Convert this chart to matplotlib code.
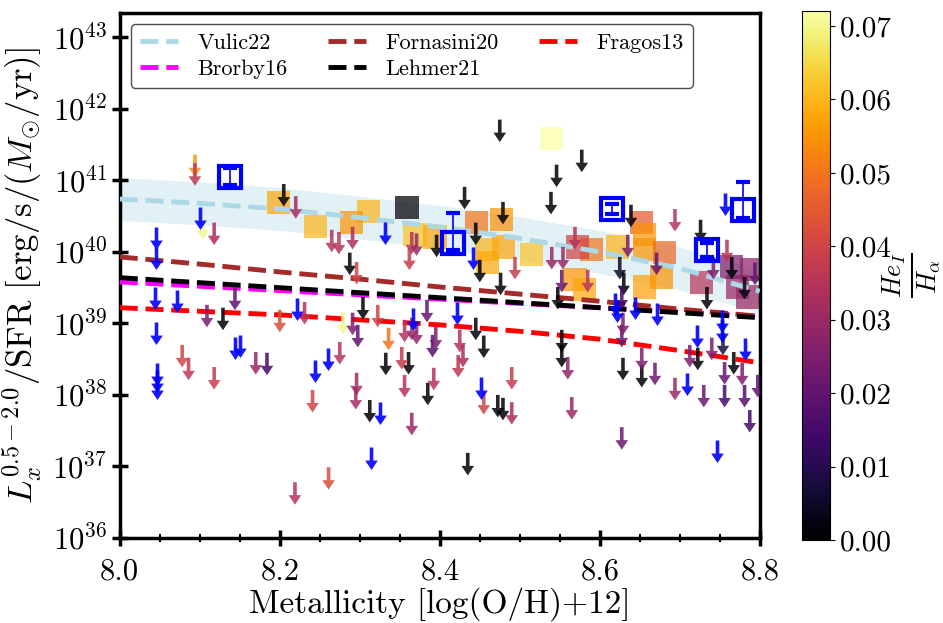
import numpy as np
import matplotlib
matplotlib.use('Agg')
import matplotlib.pyplot as plt
import matplotlib.ticker as mticker
from matplotlib.path import Path
from matplotlib.colors import Normalize
from matplotlib.cm import ScalarMappable

plt.rcParams['font.family'] = 'serif'
plt.rcParams['font.serif'] = ['cmr10']
plt.rcParams['mathtext.fontset'] = 'cm'
plt.rcParams['axes.formatter.use_mathtext'] = True

# ---------------------------------------------------------
# Data (metallicity, log10 Lx/SFR, HeI/Halpha)
# ---------------------------------------------------------
# scaling relations
rel_z = [8.0, 8.1, 8.2, 8.3, 8.4, 8.5, 8.6, 8.7, 8.8]
vulic_l = [40.74, 40.68, 40.60, 40.48, 40.35, 40.19, 40.00, 39.77, 39.45]
brorby_l = [39.58, 39.52, 39.46, 39.40, 39.34, 39.28, 39.22, 39.16, 39.10]
fornasini_l = [39.93, 39.83, 39.72, 39.62, 39.51, 39.41, 39.31, 39.20, 39.10]
lehmer_l = [39.64, 39.57, 39.50, 39.43, 39.36, 39.29, 39.22, 39.15, 39.08]
fragos_l = [39.22, 39.17, 39.12, 39.05, 38.98, 38.89, 38.78, 38.62, 38.45]
vulic_scatter = 0.3

# upper limits without HeI measurement (blue arrows)
blue_lim_z = [8.100, 8.045, 8.045, 8.044, 8.071, 8.221, 8.045, 8.046, 8.046, 8.046,
              8.144, 8.150, 8.244, 8.260, 8.325, 8.314, 8.451, 8.709, 8.721, 8.7525,
              8.781, 8.746, 8.756, 8.644, 8.619, 8.671, 8.7525, 8.331, 8.441, 8.421,
              8.366, 8.621]
blue_lim_l = [40.63, 40.35, 40.07, 39.51, 39.47, 39.36, 39.02, 38.45, 38.35, 38.25,
              38.81, 38.84, 38.49, 38.66, 37.90, 37.27, 38.25, 38.31, 38.98, 39.05,
              38.80, 37.37, 40.83, 39.37, 39.43, 39.29, 39.19, 40.42, 40.07, 39.30,
              39.22, 39.33]

# upper limits coloured by HeI/Halpha
lim_z = [8.205, 8.129, 8.3325, 8.361, 8.3125, 8.385, 8.435, 8.445, 8.455, 8.4725,
         8.479, 8.5525, 8.5525, 8.629, 8.6525, 8.7225, 8.7675, 8.5775, 8.546, 8.539,
         8.639, 8.726, 8.475, 8.431, 8.479, 8.445, 8.450, 8.476, 8.396, 8.2875,
         8.304, 8.5475, 8.734, 8.625, 8.630, 8.765, 8.781, 8.754,
         8.094, 8.094, 8.104, 8.118, 8.220, 8.265, 8.274, 8.291, 8.144, 8.109,
         8.231, 8.200, 8.078, 8.086, 8.118, 8.170, 8.184, 8.241, 8.219, 8.261,
         8.279, 8.2975, 8.291, 8.275, 8.336, 8.356, 8.365, 8.371, 8.3525, 8.391,
         8.395, 8.356, 8.296, 8.295, 8.3925, 8.365, 8.425, 8.429, 8.423, 8.455,
         8.490, 8.490, 8.560, 8.565, 8.6275, 8.6525, 8.669, 8.694, 8.7125, 8.730,
         8.740, 8.756, 8.756, 8.781, 8.7875, 8.778, 8.7975, 8.6275, 8.629, 8.694,
         8.569, 8.540, 8.554, 8.5525, 8.585, 8.635, 8.671, 8.759, 8.742, 8.794,
         8.6275, 8.365, 8.362, 8.371, 8.296, 8.494, 8.3225, 8.384]
lim_l = [40.95, 39.22, 38.59, 38.60, 37.93, 38.17, 37.19, 39.08, 38.83, 38.00,
         37.96, 38.91, 38.70, 38.52, 38.42, 38.66, 38.60, 41.43, 41.22, 40.84,
         40.66, 40.45, 41.85, 40.91, 40.70, 40.41, 39.89, 39.71, 40.24, 39.99,
         39.37, 39.51, 39.51, 39.93, 39.71, 39.93, 39.65, 38.87,
         41.36, 41.24, 40.49, 40.41, 40.78, 40.31, 40.28, 40.35, 39.50, 39.26,
         39.30, 39.19, 38.70, 38.52, 38.39, 38.60, 38.59, 38.07, 36.78, 36.99,
         39.16, 38.98, 39.15, 38.74, 38.94, 39.05, 39.08, 39.02, 38.67, 38.84,
         38.95, 38.28, 38.31, 38.11, 38.38, 37.75, 38.91, 38.70, 38.56, 38.04,
         38.39, 37.90, 38.53, 37.97, 37.55, 38.66, 38.45, 38.24, 38.70, 38.14,
         38.80, 38.14, 38.46, 38.14, 37.79, 38.45, 38.28, 38.98, 39.15, 40.60,
         40.35, 40.07, 40.07, 39.75, 39.75, 40.24, 39.99, 40.17, 39.93, 39.85,
         39.51, 40.28, 40.06, 40.26, 39.86, 39.93, 39.26, 39.33]
lim_he = [0.0, 0.0, 0.0, 0.0, 0.0, 0.0, 0.0, 0.0, 0.0, 0.0,
          0.0, 0.0, 0.0, 0.0, 0.0, 0.0, 0.0, 0.0, 0.0, 0.0,
          0.0, 0.0, 0.0, 0.0, 0.0, 0.0, 0.0, 0.0, 0.0, 0.0,
          0.0, 0.0, 0.0, 0.005, 0.0, 0.0, 0.003, 0.008,
          0.055, 0.036, 0.070, 0.033, 0.032, 0.035, 0.035, 0.033, 0.020, 0.025,
          0.035, 0.042, 0.040, 0.037, 0.038, 0.030, 0.015, 0.040, 0.035, 0.042,
          0.070, 0.020, 0.025, 0.035, 0.050, 0.035, 0.030, 0.028, 0.038, 0.018,
          0.025, 0.035, 0.032, 0.032, 0.035, 0.030, 0.035, 0.033, 0.036, 0.040,
          0.038, 0.033, 0.028, 0.030, 0.022, 0.025, 0.022, 0.030, 0.025, 0.022,
          0.025, 0.015, 0.020, 0.018, 0.015, 0.025, 0.020, 0.022, 0.025, 0.035,
          0.035, 0.030, 0.030, 0.020, 0.035, 0.025, 0.020, 0.035, 0.025, 0.020,
          0.015, 0.035, 0.038, 0.030, 0.040, 0.038, 0.040, 0.020]

# detections coloured by HeI/Halpha (squares)
det_z = [8.198, 8.245, 8.311, 8.290, 8.359, 8.369, 8.394, 8.446, 8.4775, 8.459,
         8.460, 8.480, 8.515, 8.540, 8.6525, 8.656, 8.656, 8.656, 8.6225, 8.590,
         8.569, 8.581, 8.6775, 8.681, 8.5725, 8.7275, 8.7725, 8.765, 8.785, 8.790]
det_l = [40.69, 40.36, 40.56, 40.41, 40.62, 40.24, 40.21, 40.41, 40.45, 40.03,
         39.85, 40.07, 39.96, 41.59, 40.41, 40.24, 40.03, 39.51, 40.07, 40.03,
         39.61, 39.47, 39.65, 39.99, 40.07, 39.57, 39.51, 39.79, 39.37, 39.75]
det_he = [0.058, 0.060, 0.060, 0.055, 0.0, 0.062, 0.058, 0.050, 0.055, 0.060,
          0.058, 0.058, 0.062, 0.072, 0.045, 0.055, 0.055, 0.057, 0.060, 0.050,
          0.055, 0.058, 0.055, 0.048, 0.040, 0.035, 0.030, 0.025, 0.030, 0.028]

# detections without HeI measurement (open blue squares), errors in dex
blue_det_z = [8.1375, 8.416, 8.615, 8.734, 8.779]
blue_det_l = [41.05, 40.13, 40.60, 40.03, 40.59]
blue_det_lo = [0.12, 0.10, 0.07, 0.10, 0.12]
blue_det_hi = [0.12, 0.42, 0.07, 0.10, 0.39]

y_decades = np.arange(36, 44)
cb_ticks = [0.00, 0.01, 0.02, 0.03, 0.04, 0.05, 0.06, 0.07]

# ---------------------------------------------------------
# Plot
# ---------------------------------------------------------
fig = plt.figure(figsize=(9.43, 6.23), dpi=100)
ax = fig.add_axes([0.127, 0.1365, 0.6787, 0.8425])
cax = fig.add_axes([0.851, 0.133, 0.029, 0.849])

norm = Normalize(vmin=0, vmax=0.072)
cmap = plt.get_cmap('inferno')

# down-arrow marker, tip of the shaft sits on the data point
arrow = Path([(-0.08, 0), (0.08, 0), (0.08, -0.58), (0.28, -0.58), (0, -1.0),
              (-0.28, -0.58), (-0.08, -0.58), (-0.08, 0)], closed=True)

rel_z = np.array(rel_z)
vl = np.array(vulic_l)
ax.fill_between(rel_z, 10**(vl - vulic_scatter), 10**(vl + vulic_scatter),
                color='lightblue', alpha=0.35, lw=0, zorder=1)

relations = [('Vulic22', vulic_l, 'lightblue'),
             ('Brorby16', brorby_l, 'magenta'),
             ('Fornasini20', fornasini_l, 'brown'),
             ('Lehmer21', lehmer_l, 'black'),
             ('Fragos13', fragos_l, 'red')]
for name, vals, col in relations:
    ax.plot(rel_z, 10**np.array(vals), ls='--', color=col, lw=3.5, label=name, zorder=3)

ax.scatter(det_z, 10**np.array(det_l), c=det_he, cmap=cmap, norm=norm,
           marker='s', s=280, alpha=0.72, linewidths=0, zorder=2)
ax.scatter(lim_z, 10**np.array(lim_l), c=lim_he, cmap=cmap, norm=norm,
           marker=arrow, s=1050, alpha=0.85, linewidths=0, zorder=4)
ax.scatter(blue_lim_z, 10**np.array(blue_lim_l), color='blue',
           marker=arrow, s=1050, alpha=0.9, linewidths=0, zorder=4)

by = 10**np.array(blue_det_l)
yerr = [by - 10**(np.array(blue_det_l) - np.array(blue_det_lo)),
        10**(np.array(blue_det_l) + np.array(blue_det_hi)) - by]
ax.errorbar(blue_det_z, by, yerr=yerr, fmt='s', mfc='none', mec='blue', ms=16,
            mew=3, ecolor='blue', elinewidth=1.2, capsize=5, capthick=1.2, zorder=5)

ax.set_yscale('log')
ax.set_xlim(8.0, 8.8)
ax.set_ylim(1e36, 10**43.34)
ax.yaxis.set_major_locator(mticker.FixedLocator(10.0**y_decades))
ax.yaxis.set_major_formatter(mticker.LogFormatterSciNotation())
ax.yaxis.set_minor_locator(mticker.NullLocator())
ax.xaxis.set_major_locator(mticker.MultipleLocator(0.2))
ax.xaxis.set_minor_locator(mticker.MultipleLocator(0.05))
ax.xaxis.set_major_formatter(mticker.FormatStrFormatter('%.1f'))
ax.tick_params(which='major', direction='inout', length=11, width=2.5, labelsize=22)
ax.tick_params(axis='x', which='major', pad=9)
ax.tick_params(which='minor', direction='inout', length=6, width=1.5)
for sp in ax.spines.values():
    sp.set_linewidth(2.5)

ax.set_xlabel('Metallicity [log(O/H)+12]', fontsize=24, labelpad=1)
ax.set_ylabel(r'$L_x^{0.5-2.0}/\mathrm{SFR}\ [\mathrm{erg/s}/(M_{\odot}/\mathrm{yr})]$',
              fontsize=25, labelpad=6)

ax.legend(loc='upper left', ncol=3, fontsize=16, handlelength=1.7, handletextpad=0.9,
          columnspacing=1.8, labelspacing=0.3, borderpad=0.4,
          fancybox=True, framealpha=1, edgecolor='0.3')

cb = fig.colorbar(ScalarMappable(norm=norm, cmap=cmap), cax=cax, ticks=cb_ticks)
cb.ax.yaxis.set_major_formatter(mticker.FormatStrFormatter('%.2f'))
cb.ax.tick_params(labelsize=21)
fig.text(0.967, 0.558, r'$\frac{He_I}{H_\alpha}$', rotation=90, fontsize=27,
         ha='center', va='center')

plt.savefig('out.png', dpi=100)
